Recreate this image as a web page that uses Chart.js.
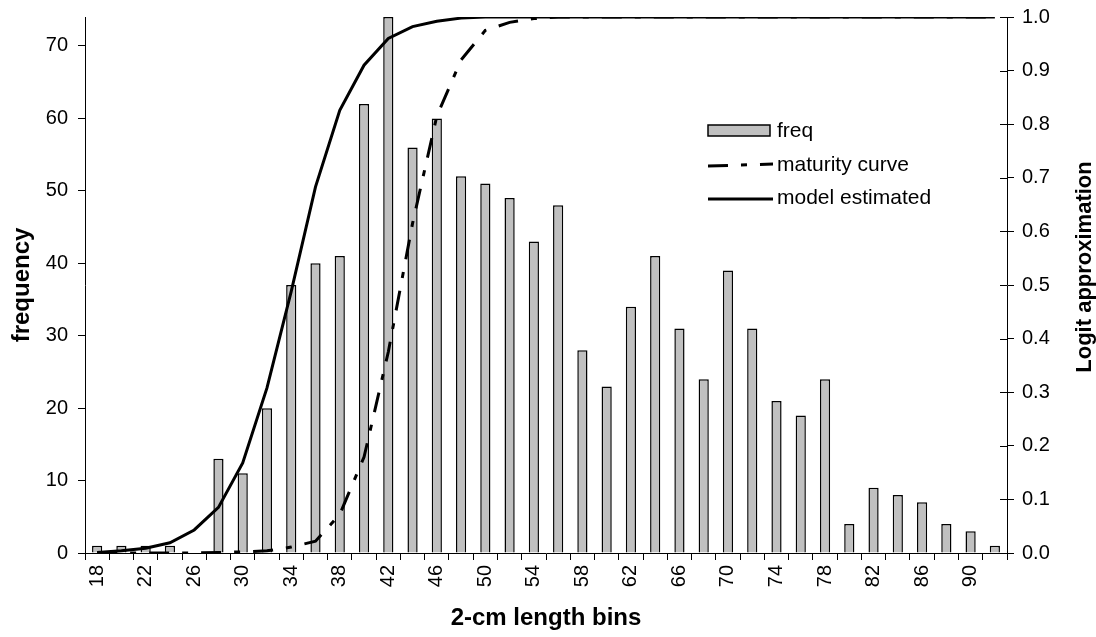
<!DOCTYPE html>
<html>
<head>
<meta charset="utf-8">
<script src="https://cdn.jsdelivr.net/npm/chart.js@4/dist/chart.umd.min.js"></script>
<style>
  body { margin: 0; background: #fff; }
</style>
</head>
<body>
<canvas id="myChart" width="1096" height="637"></canvas>
<script>
// length bins (2 cm)
const bins = [18, 20, 22, 24, 26, 28, 30, 32, 34, 36, 38, 40, 42, 44, 46, 48, 50, 52, 54,
  56, 58, 60, 62, 64, 66, 68, 70, 72, 74, 76, 78, 80, 82, 84, 86, 88, 90, 92];

// no fish in the 26 bin
const freq = [1, 1, 1, 1, null, 13, 11, 20, 37, 40, 41, 62, 74, 56, 60, 52, 51, 49, 43,
  48, 28, 23, 34, 41, 31, 24, 39, 31, 21, 19, 24, 4, 9, 8, 7, 4, 3, 1];

const maturity = [0, 0, 0, 0, 0, 0.001, 0.002, 0.004, 0.011, 0.022, 0.072, 0.179, 0.375, 0.615, 0.815, 0.92, 0.975, 0.99, 0.997,
  1, 1, 1, 1, 1, 1, 1, 1, 1, 1, 1, 1, 1, 1, 1, 1, 1, 1, 1];

const model = [0.001, 0.004, 0.009, 0.019, 0.043, 0.085, 0.168, 0.308, 0.488, 0.683, 0.826, 0.91, 0.96, 0.982, 0.992, 0.998, 1, 1, 1,
  1, 1, 1, 1, 1, 1, 1, 1, 1, 1, 1, 1, 1, 1, 1, 1, 1, 1, 1];

const freqTicks = [0, 10, 20, 30, 40, 50, 60, 70];
const logitTicks = [0, 0.1, 0.2, 0.3, 0.4, 0.5, 0.6, 0.7, 0.8, 0.9, 1.0];

const FONT = '"Liberation Sans", Arial, sans-serif';
const DASH = [20, 13, 6, 13];

// legend sits inside the plot, drawn by hand
const boxLegend = {
  id: 'boxLegend',
  afterDraw: function(chart){
    let ctx = chart.ctx;
    ctx.save();
    ctx.font = '21px ' + FONT;
    ctx.textBaseline = 'middle';

    ctx.fillStyle = '#c0c0c0';
    ctx.fillRect(708, 125, 62, 11);
    ctx.strokeStyle = '#000';
    ctx.lineWidth = 1.5;
    ctx.strokeRect(708, 125, 62, 11);
    ctx.fillStyle = '#000';
    ctx.fillText('freq', 777, 131);

    ctx.lineWidth = 3;
    ctx.setLineDash(DASH);
    ctx.beginPath();
    ctx.moveTo(708, 166);
    ctx.lineTo(773, 164);
    ctx.stroke();
    ctx.setLineDash([]);
    ctx.fillText('maturity curve', 777, 165);

    ctx.beginPath();
    ctx.moveTo(708, 199);
    ctx.lineTo(773, 199);
    ctx.stroke();
    ctx.fillText('model estimated', 777, 198);

    // right axis ticks cross the axis line
    let y1 = chart.scales.y1;
    ctx.lineWidth = 1;
    ctx.beginPath();
    y1.ticks.forEach(function(t){
      let py = Math.round(y1.getPixelForValue(t.value)) + 0.5;
      ctx.moveTo(y1.left - 7, py);
      ctx.lineTo(y1.left, py);
    });
    ctx.stroke();

    // right title reads bottom to top
    ctx.translate(1085, 267);
    ctx.rotate(-Math.PI / 2);
    ctx.textAlign = 'center';
    ctx.font = 'bold 22px ' + FONT;
    ctx.fillText('Logit approximation', 0, 0);
    ctx.restore();
  }
};

function fitY(width){
  return function(scale){
    scale.width = width;
    scale.paddingTop = 0;
    scale.paddingBottom = 0;
  };
}

const data = {
  labels: bins,
  datasets: [{
    type: 'line',
    label: 'maturity curve',
    data: maturity,
    yAxisID: 'y1',
    borderColor: '#000',
    borderWidth: 3,
    borderDash: DASH,
    pointRadius: 0,
    fill: false,
    order: 1
  }, {
    type: 'line',
    label: 'model estimated',
    data: model,
    yAxisID: 'y1',
    borderColor: '#000',
    borderWidth: 3,
    pointRadius: 0,
    fill: false,
    order: 1
  }, {
    type: 'bar',
    label: 'freq',
    data: freq,
    yAxisID: 'y',
    backgroundColor: '#c0c0c0',
    borderColor: '#000',
    borderWidth: 1.5,
    categoryPercentage: 1,
    barPercentage: 0.42,
    order: 2
  }]
};

const config = {
  type: 'bar',
  data: data,
  plugins: [boxLegend],
  options: {
    responsive: false,
    animation: false,
    layout: { padding: { top: 17, left: 0, right: 0, bottom: 0 } },
    plugins: {
      legend: { display: false },
      tooltip: { enabled: false }
    },
    scales: {
      x: {
        offset: true,
        border: { display: true, color: '#000', width: 1 },
        grid: { offset: true, drawOnChartArea: false, drawTicks: true, tickLength: 7, color: '#000' },
        ticks: {
          autoSkip: false,
          maxRotation: 90,
          minRotation: 90,
          padding: 5,
          color: '#000',
          font: { family: FONT, size: 20 },
          callback: function(val, index){
            return index % 2 === 0 ? bins[index] : '';
          }
        },
        title: {
          display: true,
          text: '2-cm length bins',
          color: '#000',
          font: { family: FONT, size: 24, weight: 'bold' },
          padding: { top: 0, bottom: 4 }
        },
        afterFit: function(scale){ scale.height = 84; }
      },
      y: {
        position: 'left',
        min: 0,
        max: 74,
        border: { display: true, color: '#000', width: 1 },
        grid: { drawOnChartArea: false, drawTicks: true, tickLength: 7, color: '#000' },
        afterBuildTicks: function(scale){
          scale.ticks = freqTicks.map(function(v){ return { value: v }; });
        },
        ticks: {
          padding: 10,
          color: '#000',
          font: { family: FONT, size: 20 }
        },
        title: {
          display: true,
          text: 'frequency',
          color: '#000',
          font: { family: FONT, size: 24, weight: 'bold' },
          padding: { top: 8, bottom: 0 }
        },
        afterFit: fitY(85)
      },
      y1: {
        position: 'right',
        min: 0,
        max: 1,
        border: { display: true, color: '#000', width: 1 },
        grid: { drawOnChartArea: false, drawTicks: true, tickLength: 7, color: '#000' },
        afterBuildTicks: function(scale){
          scale.ticks = logitTicks.map(function(v){ return { value: v }; });
        },
        ticks: {
          padding: 8,
          color: '#000',
          font: { family: FONT, size: 20 },
          callback: function(v){ return v.toFixed(1); }
        },
        afterFit: fitY(89)
      }
    }
  }
};

var myChart = new Chart(document.getElementById('myChart'), config);
</script>
</body>
</html>
